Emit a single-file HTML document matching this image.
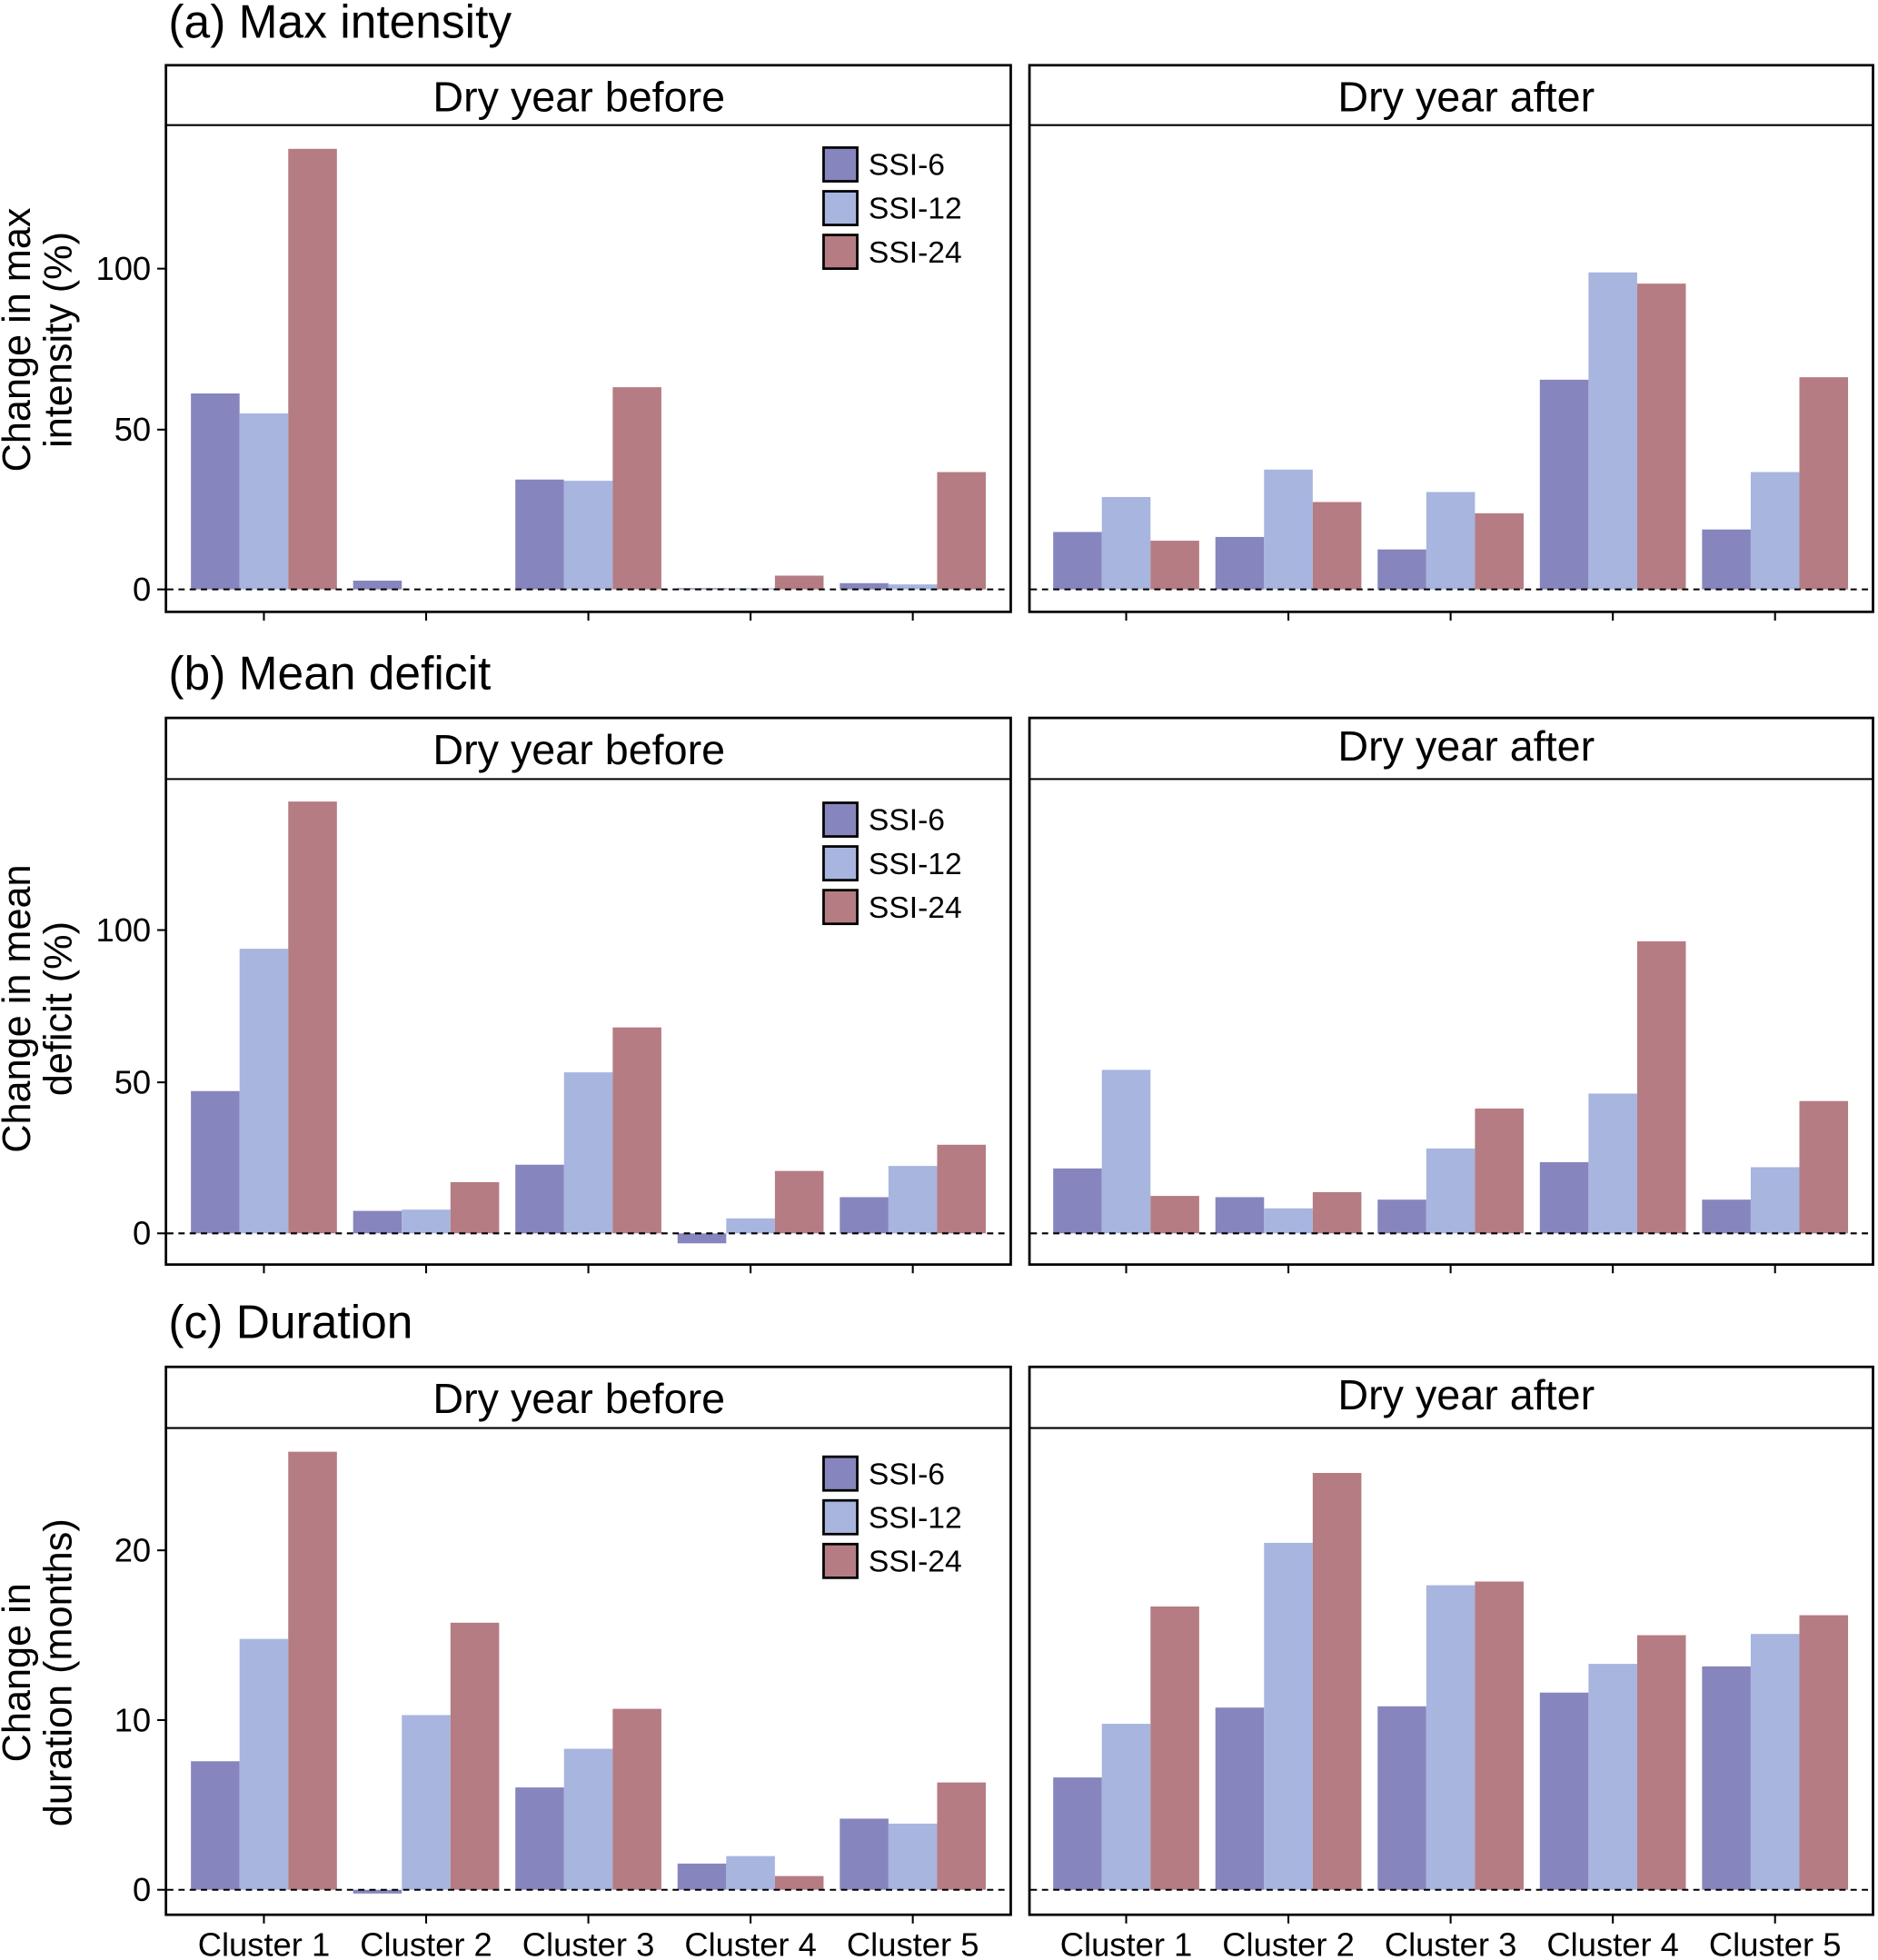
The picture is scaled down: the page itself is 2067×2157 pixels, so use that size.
<!DOCTYPE html>
<html><head><meta charset="utf-8"><style>
html,body{margin:0;padding:0;background:#fff}
svg{display:block}
text{font-family:"Liberation Sans",sans-serif;fill:#000}
.a{fill:#8685bd}.b{fill:#a7b5df}.c{fill:#b57c83}
.box{fill:none;stroke:#000;stroke-width:2}
.z{stroke:#000;stroke-width:1.5;stroke-dasharray:5,4}
.t{stroke:#000;stroke-width:1.5}
.st{font-size:34px}
.tl{font-size:26.5px}
.tt{font-size:37.5px}
.yl{font-size:31.5px}
.cl{font-size:26.5px}
.lg{font-size:24.5px}
</style></head><body>
<svg width="2067" height="2157" viewBox="0 0 1505 1570" xmlns="http://www.w3.org/2000/svg">
<!-- ROW A -->
<text x="135" y="30" class="tt">(a) Max intensity</text>
<g>
<rect x="133" y="52" width="677" height="438" class="box"/><line x1="133" y1="100" x2="810" y2="100" class="t"/>
<text x="464" y="89" class="st" text-anchor="middle">Dry year before</text>
<rect x="825" y="52" width="676" height="438" class="box"/><line x1="825" y1="100" x2="1501" y2="100" class="t"/>
<text x="1175" y="89" class="st" text-anchor="middle">Dry year after</text>
<rect x="153" y="315" width="39" height="157" class="a"/><rect x="192" y="331" width="39" height="141" class="b"/><rect x="231" y="119" width="39" height="353" class="c"/>
<rect x="283" y="465" width="39" height="7" class="a"/>
<rect x="413" y="384" width="39" height="88" class="a"/><rect x="452" y="385" width="39" height="87" class="b"/><rect x="491" y="310" width="39" height="162" class="c"/>
<rect x="543" y="471" width="39" height="1" class="a"/><rect x="582" y="471" width="39" height="1" class="b"/><rect x="621" y="461" width="39" height="11" class="c"/>
<rect x="673" y="467" width="39" height="5" class="a"/><rect x="712" y="468" width="39" height="4" class="b"/><rect x="751" y="378" width="39" height="94" class="c"/>
<rect x="844" y="426" width="39" height="46" class="a"/><rect x="883" y="398" width="39" height="74" class="b"/><rect x="922" y="433" width="39" height="39" class="c"/>
<rect x="974" y="430" width="39" height="42" class="a"/><rect x="1013" y="376" width="39" height="96" class="b"/><rect x="1052" y="402" width="39" height="70" class="c"/>
<rect x="1104" y="440" width="39" height="32" class="a"/><rect x="1143" y="394" width="39" height="78" class="b"/><rect x="1182" y="411" width="39" height="61" class="c"/>
<rect x="1234" y="304" width="39" height="168" class="a"/><rect x="1273" y="218" width="39" height="254" class="b"/><rect x="1312" y="227" width="39" height="245" class="c"/>
<rect x="1364" y="424" width="39" height="48" class="a"/><rect x="1403" y="378" width="39" height="94" class="b"/><rect x="1442" y="302" width="39" height="170" class="c"/>
<line x1="134" y1="472" x2="809" y2="472" class="z"/><line x1="826" y1="472" x2="1500" y2="472" class="z"/>
<line x1="126" y1="472" x2="133" y2="472" class="t"/><line x1="126" y1="344" x2="133" y2="344" class="t"/><line x1="126" y1="215" x2="133" y2="215" class="t"/>
<text x="121" y="481" class="tl" text-anchor="end">0</text><text x="121" y="353" class="tl" text-anchor="end">50</text><text x="121" y="224" class="tl" text-anchor="end">100</text>
<text transform="translate(24,272) rotate(-90)" class="yl" text-anchor="middle">Change in max</text>
<text transform="translate(57,272) rotate(-90)" class="yl" text-anchor="middle">intensity (%)</text>
<g class="t"><line x1="211.5" y1="490" x2="211.5" y2="497"/><line x1="341.5" y1="490" x2="341.5" y2="497"/><line x1="471.5" y1="490" x2="471.5" y2="497"/><line x1="601.5" y1="490" x2="601.5" y2="497"/><line x1="731.5" y1="490" x2="731.5" y2="497"/>
<line x1="902.5" y1="490" x2="902.5" y2="497"/><line x1="1032.5" y1="490" x2="1032.5" y2="497"/><line x1="1162.5" y1="490" x2="1162.5" y2="497"/><line x1="1292.5" y1="490" x2="1292.5" y2="497"/><line x1="1422.5" y1="490" x2="1422.5" y2="497"/></g>
<rect x="660" y="118" width="27" height="27" class="a" stroke="#000" stroke-width="2"/><rect x="660" y="153" width="27" height="27" class="b" stroke="#000" stroke-width="2"/><rect x="660" y="188" width="27" height="27" class="c" stroke="#000" stroke-width="2"/>
<text x="696" y="140" class="lg">SSI-6</text><text x="696" y="175" class="lg">SSI-12</text><text x="696" y="210" class="lg">SSI-24</text>
</g>

<!-- ROW B -->
<text x="135" y="552" class="tt">(b) Mean deficit</text>
<g>
<rect x="133" y="575" width="677" height="438" class="box"/><line x1="133" y1="624" x2="810" y2="624" class="t"/>
<text x="464" y="612" class="st" text-anchor="middle">Dry year before</text>
<rect x="825" y="575" width="676" height="438" class="box"/><line x1="825" y1="624" x2="1501" y2="624" class="t"/>
<text x="1175" y="609" class="st" text-anchor="middle">Dry year after</text>
<rect x="153" y="874" width="39" height="114" class="a"/><rect x="192" y="760" width="39" height="228" class="b"/><rect x="231" y="642" width="39" height="346" class="c"/>
<rect x="283" y="970" width="39" height="18" class="a"/><rect x="322" y="969" width="39" height="19" class="b"/><rect x="361" y="947" width="39" height="41" class="c"/>
<rect x="413" y="933" width="39" height="55" class="a"/><rect x="452" y="859" width="39" height="129" class="b"/><rect x="491" y="823" width="39" height="165" class="c"/>
<rect x="543" y="988" width="39" height="8" class="a"/><rect x="582" y="976" width="39" height="12" class="b"/><rect x="621" y="938" width="39" height="50" class="c"/>
<rect x="673" y="959" width="39" height="29" class="a"/><rect x="712" y="934" width="39" height="54" class="b"/><rect x="751" y="917" width="39" height="71" class="c"/>
<rect x="844" y="936" width="39" height="52" class="a"/><rect x="883" y="857" width="39" height="131" class="b"/><rect x="922" y="958" width="39" height="30" class="c"/>
<rect x="974" y="959" width="39" height="29" class="a"/><rect x="1013" y="968" width="39" height="20" class="b"/><rect x="1052" y="955" width="39" height="33" class="c"/>
<rect x="1104" y="961" width="39" height="27" class="a"/><rect x="1143" y="920" width="39" height="68" class="b"/><rect x="1182" y="888" width="39" height="100" class="c"/>
<rect x="1234" y="931" width="39" height="57" class="a"/><rect x="1273" y="876" width="39" height="112" class="b"/><rect x="1312" y="754" width="39" height="234" class="c"/>
<rect x="1364" y="961" width="39" height="27" class="a"/><rect x="1403" y="935" width="39" height="53" class="b"/><rect x="1442" y="882" width="39" height="106" class="c"/>
<line x1="134" y1="988" x2="809" y2="988" class="z"/><line x1="826" y1="988" x2="1500" y2="988" class="z"/>
<line x1="126" y1="988" x2="133" y2="988" class="t"/><line x1="126" y1="867" x2="133" y2="867" class="t"/><line x1="126" y1="745" x2="133" y2="745" class="t"/>
<text x="121" y="997" class="tl" text-anchor="end">0</text><text x="121" y="876" class="tl" text-anchor="end">50</text><text x="121" y="754" class="tl" text-anchor="end">100</text>
<text transform="translate(24,808) rotate(-90)" class="yl" text-anchor="middle">Change in mean</text>
<text transform="translate(57,808) rotate(-90)" class="yl" text-anchor="middle">deficit (%)</text>
<g class="t"><line x1="211.5" y1="1013" x2="211.5" y2="1020"/><line x1="341.5" y1="1013" x2="341.5" y2="1020"/><line x1="471.5" y1="1013" x2="471.5" y2="1020"/><line x1="601.5" y1="1013" x2="601.5" y2="1020"/><line x1="731.5" y1="1013" x2="731.5" y2="1020"/>
<line x1="902.5" y1="1013" x2="902.5" y2="1020"/><line x1="1032.5" y1="1013" x2="1032.5" y2="1020"/><line x1="1162.5" y1="1013" x2="1162.5" y2="1020"/><line x1="1292.5" y1="1013" x2="1292.5" y2="1020"/><line x1="1422.5" y1="1013" x2="1422.5" y2="1020"/></g>
<rect x="660" y="643" width="27" height="27" class="a" stroke="#000" stroke-width="2"/><rect x="660" y="678" width="27" height="27" class="b" stroke="#000" stroke-width="2"/><rect x="660" y="713" width="27" height="27" class="c" stroke="#000" stroke-width="2"/>
<text x="696" y="665" class="lg">SSI-6</text><text x="696" y="700" class="lg">SSI-12</text><text x="696" y="735" class="lg">SSI-24</text>
</g>

<!-- ROW C -->
<text x="135" y="1072" class="tt">(c) Duration</text>
<g>
<rect x="133" y="1095" width="677" height="439" class="box"/><line x1="133" y1="1144" x2="810" y2="1144" class="t"/>
<text x="464" y="1132" class="st" text-anchor="middle">Dry year before</text>
<rect x="825" y="1095" width="676" height="439" class="box"/><line x1="825" y1="1144" x2="1501" y2="1144" class="t"/>
<text x="1175" y="1129" class="st" text-anchor="middle">Dry year after</text>
<rect x="153" y="1411" width="39" height="103" class="a"/><rect x="192" y="1313" width="39" height="201" class="b"/><rect x="231" y="1163" width="39" height="351" class="c"/>
<rect x="283" y="1514" width="39" height="3" class="a"/><rect x="322" y="1374" width="39" height="140" class="b"/><rect x="361" y="1300" width="39" height="214" class="c"/>
<rect x="413" y="1432" width="39" height="82" class="a"/><rect x="452" y="1401" width="39" height="113" class="b"/><rect x="491" y="1369" width="39" height="145" class="c"/>
<rect x="543" y="1493" width="39" height="21" class="a"/><rect x="582" y="1487" width="39" height="27" class="b"/><rect x="621" y="1503" width="39" height="11" class="c"/>
<rect x="673" y="1457" width="39" height="57" class="a"/><rect x="712" y="1461" width="39" height="53" class="b"/><rect x="751" y="1428" width="39" height="86" class="c"/>
<rect x="844" y="1424" width="39" height="90" class="a"/><rect x="883" y="1381" width="39" height="133" class="b"/><rect x="922" y="1287" width="39" height="227" class="c"/>
<rect x="974" y="1368" width="39" height="146" class="a"/><rect x="1013" y="1236" width="39" height="278" class="b"/><rect x="1052" y="1180" width="39" height="334" class="c"/>
<rect x="1104" y="1367" width="39" height="147" class="a"/><rect x="1143" y="1270" width="39" height="244" class="b"/><rect x="1182" y="1267" width="39" height="247" class="c"/>
<rect x="1234" y="1356" width="39" height="158" class="a"/><rect x="1273" y="1333" width="39" height="181" class="b"/><rect x="1312" y="1310" width="39" height="204" class="c"/>
<rect x="1364" y="1335" width="39" height="179" class="a"/><rect x="1403" y="1309" width="39" height="205" class="b"/><rect x="1442" y="1294" width="39" height="220" class="c"/>
<line x1="134" y1="1514" x2="809" y2="1514" class="z"/><line x1="826" y1="1514" x2="1500" y2="1514" class="z"/>
<line x1="126" y1="1514" x2="133" y2="1514" class="t"/><line x1="126" y1="1378" x2="133" y2="1378" class="t"/><line x1="126" y1="1242" x2="133" y2="1242" class="t"/>
<text x="121" y="1523" class="tl" text-anchor="end">0</text><text x="121" y="1387" class="tl" text-anchor="end">10</text><text x="121" y="1251" class="tl" text-anchor="end">20</text>
<text transform="translate(24,1340) rotate(-90)" class="yl" text-anchor="middle">Change in</text>
<text transform="translate(57,1340) rotate(-90)" class="yl" text-anchor="middle">duration (months)</text>
<g class="t"><line x1="211.5" y1="1534" x2="211.5" y2="1541"/><line x1="341.5" y1="1534" x2="341.5" y2="1541"/><line x1="471.5" y1="1534" x2="471.5" y2="1541"/><line x1="601.5" y1="1534" x2="601.5" y2="1541"/><line x1="731.5" y1="1534" x2="731.5" y2="1541"/>
<line x1="902.5" y1="1534" x2="902.5" y2="1541"/><line x1="1032.5" y1="1534" x2="1032.5" y2="1541"/><line x1="1162.5" y1="1534" x2="1162.5" y2="1541"/><line x1="1292.5" y1="1534" x2="1292.5" y2="1541"/><line x1="1422.5" y1="1534" x2="1422.5" y2="1541"/></g>
<g class="cl" text-anchor="middle">
<text x="211.5" y="1567">Cluster 1</text><text x="341.5" y="1567">Cluster 2</text><text x="471.5" y="1567">Cluster 3</text><text x="601.5" y="1567">Cluster 4</text><text x="731.5" y="1567">Cluster 5</text>
<text x="902.5" y="1567">Cluster 1</text><text x="1032.5" y="1567">Cluster 2</text><text x="1162.5" y="1567">Cluster 3</text><text x="1292.5" y="1567">Cluster 4</text><text x="1422.5" y="1567">Cluster 5</text>
</g>
<rect x="660" y="1167" width="27" height="27" class="a" stroke="#000" stroke-width="2"/><rect x="660" y="1202" width="27" height="27" class="b" stroke="#000" stroke-width="2"/><rect x="660" y="1237" width="27" height="27" class="c" stroke="#000" stroke-width="2"/>
<text x="696" y="1189" class="lg">SSI-6</text><text x="696" y="1224" class="lg">SSI-12</text><text x="696" y="1259" class="lg">SSI-24</text>
</g>
</svg>
</body></html>
